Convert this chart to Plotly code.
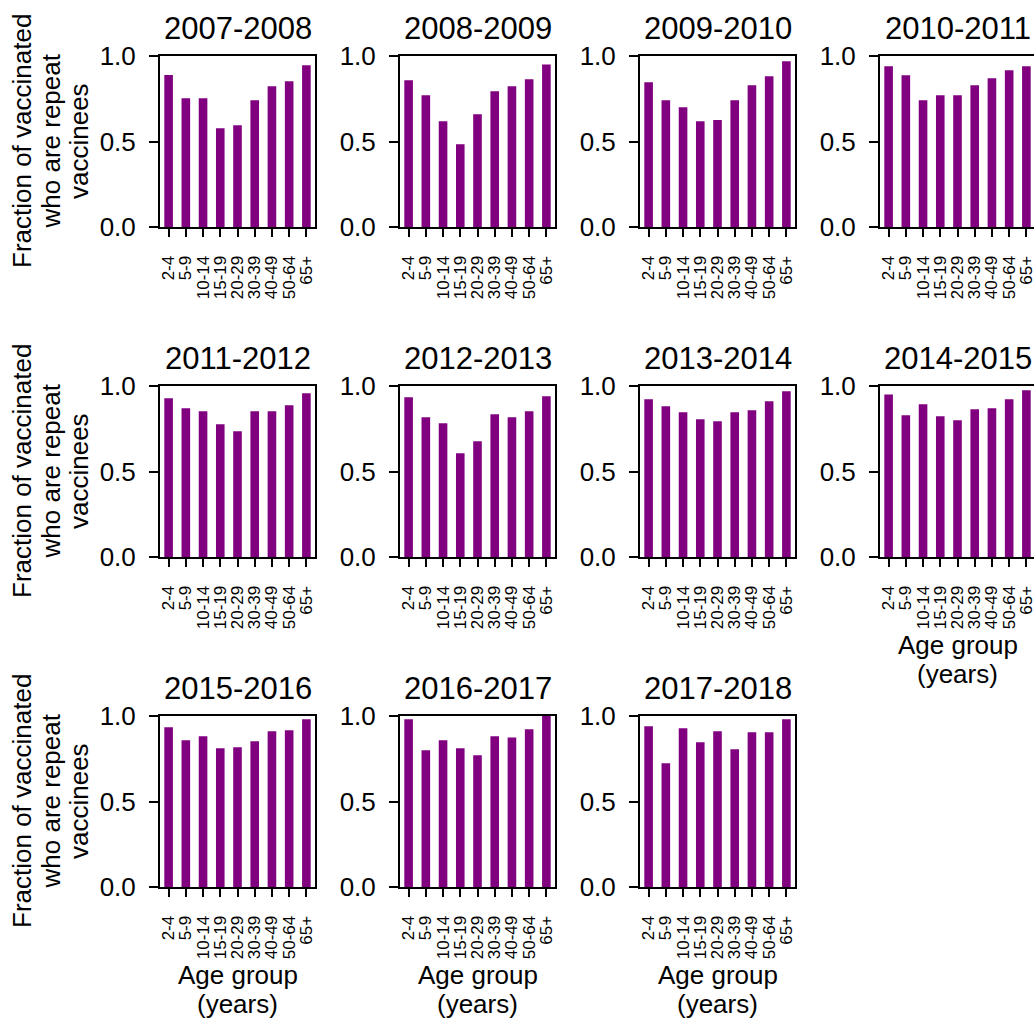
import plotly.graph_objects as go

# Age groups on every panel's x axis
age_groups = ["2-4", "5-9", "10-14", "15-19", "20-29", "30-39", "40-49", "50-64", "65+"]

# Fraction of vaccinated people who are repeat vaccinees, per season
frac_2007_2008 = [0.889, 0.753, 0.753, 0.578, 0.595, 0.741, 0.823, 0.852, 0.946]
frac_2008_2009 = [0.858, 0.770, 0.619, 0.484, 0.660, 0.794, 0.823, 0.864, 0.951]
frac_2009_2010 = [0.846, 0.741, 0.700, 0.619, 0.625, 0.741, 0.829, 0.881, 0.969]
frac_2010_2011 = [0.940, 0.887, 0.741, 0.770, 0.770, 0.829, 0.870, 0.916, 0.940]
frac_2011_2012 = [0.928, 0.870, 0.852, 0.776, 0.735, 0.852, 0.852, 0.887, 0.957]
frac_2012_2013 = [0.934, 0.817, 0.782, 0.607, 0.677, 0.835, 0.817, 0.852, 0.940]
frac_2013_2014 = [0.922, 0.881, 0.846, 0.805, 0.794, 0.846, 0.858, 0.911, 0.969]
frac_2014_2015 = [0.951, 0.829, 0.893, 0.823, 0.800, 0.864, 0.870, 0.922, 0.975]
frac_2015_2016 = [0.934, 0.858, 0.881, 0.811, 0.817, 0.852, 0.911, 0.916, 0.981]
frac_2016_2017 = [0.981, 0.800, 0.858, 0.811, 0.770, 0.881, 0.875, 0.922, 1.000]
frac_2017_2018 = [0.940, 0.724, 0.928, 0.846, 0.911, 0.805, 0.905, 0.905, 0.981]

seasons = ["2007-2008", "2008-2009", "2009-2010", "2010-2011", "2011-2012",
           "2012-2013", "2013-2014", "2014-2015", "2015-2016", "2016-2017",
           "2017-2018"]
season_values = [frac_2007_2008, frac_2008_2009, frac_2009_2010, frac_2010_2011,
                 frac_2011_2012, frac_2012_2013, frac_2013_2014, frac_2014_2015,
                 frac_2015_2016, frac_2016_2017, frac_2017_2018]

y_title_lines = ["Fraction of vaccinated", "who are repeat", "vaccinees"]
x_title_lines = ["Age group", "(years)"]

# Page geometry (pixels)
W, H = 1034, 1019
COL_LEFT = [160, 400, 640, 880]
ROW_TOP = [56, 386, 716]
PW, PH = 155, 171
N_COLS = 4

FONT = "Arial, Liberation Sans, sans-serif"
BAR_COLOR = "#800080"


def px_x(p):
    return p / W


def px_y(p):
    return 1 - p / H


fig = go.Figure()
layout = dict(
    template="none",
    width=W, height=H,
    margin=dict(l=0, r=0, t=0, b=0, pad=0, autoexpand=False),
    paper_bgcolor="white", plot_bgcolor="white",
    showlegend=False,
    font=dict(family=FONT, color="black"),
)
annotations = []

for i, (season, vals) in enumerate(zip(seasons, season_values)):
    r, c = divmod(i, N_COLS)
    suffix = "" if i == 0 else str(i + 1)
    left, top = COL_LEFT[c], ROW_TOP[r]
    right = min(left + PW, W)
    frac_visible = (right - left) / PW

    fig.add_trace(go.Bar(
        x=age_groups, y=vals, width=0.5,
        marker=dict(color=BAR_COLOR, line=dict(width=0)),
        xaxis="x" + suffix, yaxis="y" + suffix,
    ))

    layout["xaxis" + suffix] = dict(
        domain=[px_x(left), px_x(right)],
        anchor="y" + suffix,
        type="category",
        categoryorder="array", categoryarray=age_groups,
        range=[-0.5, -0.5 + 9 * frac_visible],
        tickmode="array", tickvals=age_groups, ticktext=age_groups,
        showline=True, linewidth=2, linecolor="black", mirror=True,
        ticks="outside", ticklen=8, tickwidth=2, tickcolor="black",
        tickangle=-90, tickfont=dict(size=17, family=FONT, color="black"),
        ticklabelstandoff=12,
        showgrid=False, zeroline=False, fixedrange=True, automargin=False,
    )
    layout["yaxis" + suffix] = dict(
        domain=[px_y(top + PH), px_y(top)],
        anchor="x" + suffix,
        range=[0, 1],
        tickmode="array", tickvals=[0, 0.5, 1], ticktext=["0.0", "0.5", "1.0"],
        showline=True, linewidth=2, linecolor="black",
        mirror=(c != N_COLS - 1),
        ticks="outside", ticklen=9, tickwidth=2, tickcolor="black",
        tickfont=dict(size=26, family=FONT, color="black"),
        ticklabelstandoff=8,
        showgrid=False, zeroline=False, fixedrange=True, automargin=False,
    )

    # Season title above each panel
    annotations.append(dict(
        text=season, xref="paper", yref="paper",
        x=px_x(left + PW / 2), y=px_y(top),
        xanchor="center", yanchor="bottom", yshift=8,
        showarrow=False, font=dict(size=31, family=FONT, color="black"),
    ))

    # Y-axis label on the first column
    if c == 0:
        for k, line in enumerate(y_title_lines):
            annotations.append(dict(
                text=line, xref="paper", yref="paper",
                x=px_x(21.5 + 28.5 * k), y=px_y(top + PH / 2),
                xanchor="center", yanchor="middle", textangle=-90,
                showarrow=False, font=dict(size=26, family=FONT, color="black"),
            ))

    # X-axis label under panels with nothing below them
    below = i + N_COLS
    if below >= len(seasons):
        for k, line in enumerate(x_title_lines):
            annotations.append(dict(
                text=line, xref="paper", yref="paper",
                x=px_x(left + PW / 2), y=px_y(top + PH + 88 + 29 * k),
                xanchor="center", yanchor="middle",
                showarrow=False, font=dict(size=26, family=FONT, color="black"),
            ))

layout["annotations"] = annotations
fig.update_layout(**layout)
fig.write_html("out.html")
